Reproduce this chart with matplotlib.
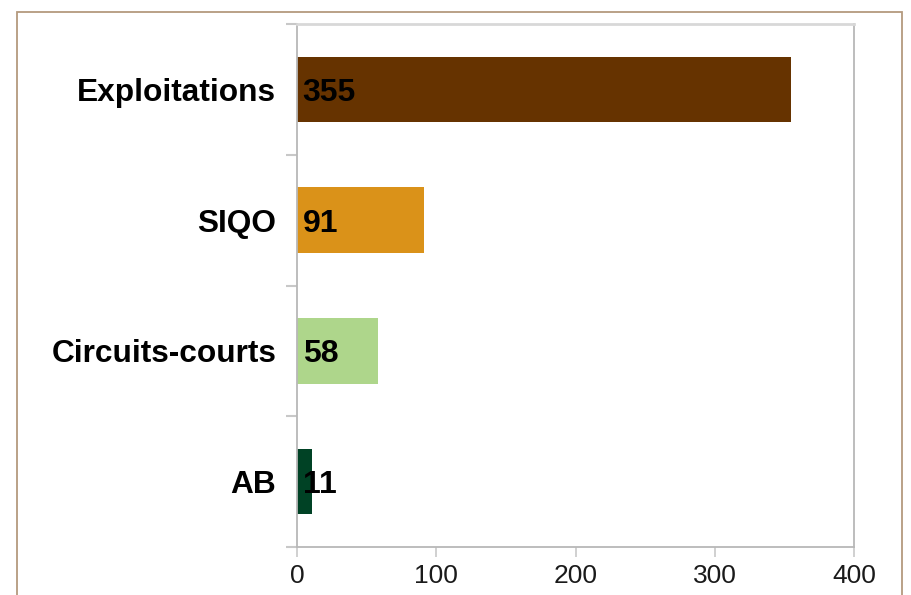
import matplotlib
matplotlib.use("Agg")
import matplotlib.pyplot as plt
from matplotlib.patches import Rectangle
import numpy as np

categories = ["Exploitations", "SIQO", "Circuits-courts", "AB"]
values = [355, 91, 58, 11]
colors = ["#663300", "#DA9219", "#AED68B", "#004225"]
xticks = [0, 100, 200, 300, 400]

plt.rcParams['font.family'] = ['Liberation Sans', 'DejaVu Sans']

W, H = 911, 595
fig = plt.figure(figsize=(W / 100, H / 100), dpi=100)

# outer border
fig.patches.append(Rectangle((17 / W, -0.05), (902 - 17) / W, (595 - 12) / H + 0.05,
                             transform=fig.transFigure, fill=False,
                             edgecolor="#B49A7E", linewidth=1.3, zorder=0))

ax = fig.add_axes([297 / W, (595 - 547) / H, (854 - 297) / W, (547 - 24) / H])
y = np.arange(len(categories))
ax.barh(y, values, height=0.5, color=colors, zorder=2)
ax.set_ylim(len(categories) - 0.5, -0.5)
ax.set_xlim(0, 400)

for yi, v in zip(y, values):
    ax.text(4, yi, str(v), ha="left", va="center_baseline", fontsize=23,
            fontweight="bold", color="#000000", zorder=3)

ax.set_xticks(xticks)
ax.set_xticklabels([str(t) for t in xticks], fontsize=19, color="#1a1a1a")
ax.set_yticks(np.arange(-0.5, len(categories), 1.0))
ax.set_yticklabels([])
ax.set_yticks(y, minor=True)
ax.set_yticklabels(categories, minor=True, fontsize=22.8, fontweight="bold",
                   color="#000000")
ax.tick_params(axis="y", which="major", length=8, width=1.5, color="#C8C8C8", direction="out")
ax.tick_params(axis="y", which="minor", length=0, pad=15)
ax.tick_params(axis="x", length=7.5, width=1.2, color="#C8C8C8", pad=5)

for s in ax.spines.values():
    s.set_color("#B8B8B8")
    s.set_linewidth(1.3)
ax.spines["top"].set_color("#D8D8D8")
ax.spines["top"].set_linewidth(2)

fig.savefig("out.png", dpi=100)
